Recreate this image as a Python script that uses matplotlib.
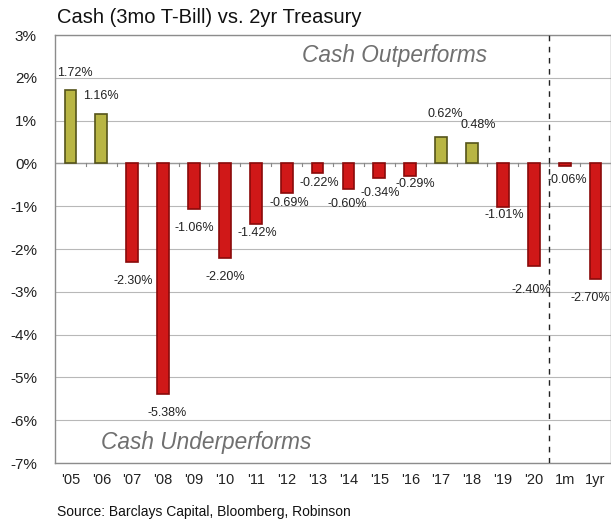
import numpy as np
import matplotlib.pyplot as plt

# yearly excess return of cash (3mo T-bill) over the 2yr treasury, in %
periods = ["'05", "'06", "'07", "'08", "'09", "'10", "'11", "'12", "'13",
           "'14", "'15", "'16", "'17", "'18", "'19", "'20", "1m", "1yr"]
excess = [1.72, 1.16, -2.30, -5.38, -1.06, -2.20, -1.42, -0.69, -0.22,
          -0.60, -0.34, -0.29, 0.62, 0.48, -1.01, -2.40, -0.06, -2.70]
y_ticks = [3, 2, 1, 0, -1, -2, -3, -4, -5, -6, -7]

# nudges (pixels) for each value label, relative to the bar end
label_nudge = [(4, 17), (0, 18), (1, -19), (4, -19), (0, -19), (0, -19),
               (2, -9), (3, -10), (2, -10), (-1, -15), (1, -15), (5, -8),
               (4, 23), (6, 18), (1, -8), (-2, -24), (3, -14), (-5, -19)]

plt.rcParams['font.family'] = ['Liberation Sans', 'DejaVu Sans']

fig = plt.figure(figsize=(6.11, 5.23), dpi=100)
ax = fig.add_axes([0.090, 0.1147, 0.910, 0.8183])

x = np.arange(len(periods))
vals = np.array(excess)
face = np.where(vals >= 0, '#b8b544', '#d01818')
edge = np.where(vals >= 0, '#55541a', '#8a0a0a')
ax.bar(x, vals, width=0.38, color=face, edgecolor=edge, linewidth=1.2, zorder=3)

for xi, v, (dx, dy) in zip(x, vals, label_nudge):
    ax.annotate(f'{v:.2f}%', (xi, v), xytext=(dx, dy), textcoords='offset pixels',
                ha='center', va='center', fontsize=9, color='#222222', zorder=4)

ax.set_xlim(-0.5, len(periods) - 0.5)
ax.set_ylim(-7, 3)

# light gridlines every 1%
for t in y_ticks:
    ax.axhline(t, color='#b8b8b8', linewidth=0.8, zorder=1)
ax.axhline(0, color='#999999', linewidth=1.0, zorder=2)

# small category ticks hanging from the zero line
for b in np.arange(0.5, len(periods) - 0.5):
    ax.plot([b, b], [0, -0.06], color='#888888', linewidth=0.8, zorder=2)

ax.axvline(15.5, color='#222222', linewidth=1.0, linestyle=(0, (4, 4)), zorder=4)

ax.set_yticks(y_ticks)
ax.set_yticklabels([f'{t}%' for t in y_ticks], fontsize=11)
ax.set_xticks(x)
ax.set_xticklabels(periods, fontsize=10.5)
ax.tick_params(axis='both', length=0, colors='#222222')
ax.tick_params(axis='y', pad=13)
ax.tick_params(axis='x', pad=7)
for s in ax.spines.values():
    s.set_color('#8c8c8c')
    s.set_linewidth(1.0)

ax.text(10.5, 2.52, 'Cash Outperforms', fontsize=16.3, style='italic', color='#707070',
        ha='center', va='center')
ax.text(4.4, -6.52, 'Cash Underperforms', fontsize=16.3, style='italic', color='#707070',
        ha='center', va='center')

fig.text(0.093, 0.967, 'Cash (3mo T-Bill) vs. 2yr Treasury', fontsize=14.5,
         ha='left', va='center', color='#111111')
fig.text(0.093, 0.021, 'Source: Barclays Capital, Bloomberg, Robinson', fontsize=10,
         ha='left', va='center', color='#111111')

fig.savefig('out.png', dpi=100)
